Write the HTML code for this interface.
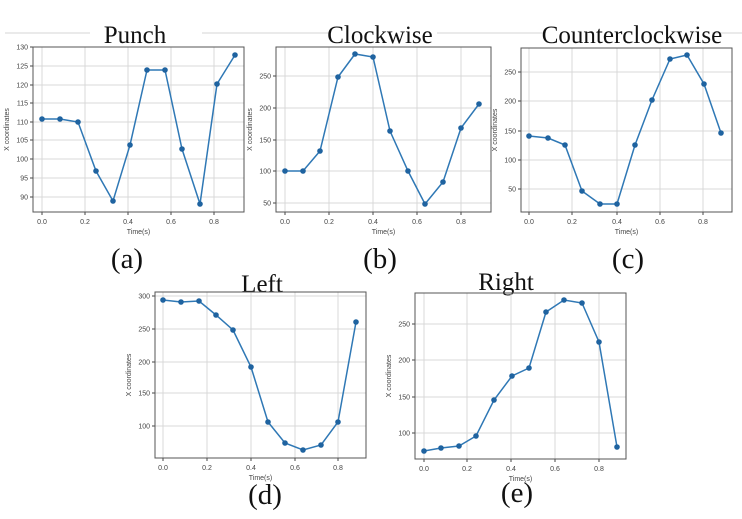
<!DOCTYPE html>
<html><head><meta charset="utf-8"><style>
html,body{margin:0;padding:0;background:#fff;}
svg{display:block;font-family:"Liberation Sans",sans-serif;}
.t{font-family:"Liberation Serif",serif;fill:#111;}
</style></head><body>
<svg id="s" width="742" height="519" viewBox="0 0 742 519" xmlns="http://www.w3.org/2000/svg">
<g stroke="#e4e4e4" stroke-width="1.5">
<line x1="5" y1="33" x2="90" y2="33"/><line x1="202" y1="33" x2="330" y2="33"/><line x1="437" y1="33" x2="545" y2="33"/><line x1="712" y1="33" x2="742" y2="33"/>
</g>
<text class="t" x="135" y="43" font-size="25" text-anchor="middle">Punch</text>
<text class="t" x="380" y="43" font-size="25" text-anchor="middle">Clockwise</text>
<text class="t" x="632" y="43" font-size="25" text-anchor="middle">Counterclockwise</text>
<text class="t" x="262" y="292" font-size="25" text-anchor="middle">Left</text>
<text class="t" x="506" y="290" font-size="25" text-anchor="middle">Right</text>
<text class="t" x="127" y="268" font-size="29" text-anchor="middle">(a)</text>
<text class="t" x="380" y="268" font-size="29" text-anchor="middle">(b)</text>
<text class="t" x="628" y="268" font-size="29" text-anchor="middle">(c)</text>
<text class="t" x="265" y="504" font-size="29" text-anchor="middle">(d)</text>
<text class="t" x="517" y="502" font-size="29" text-anchor="middle">(e)</text>
</svg>
<script>
var NS="http://www.w3.org/2000/svg",S=document.getElementById('s');
function el(n,a,t){var e=document.createElementNS(NS,n);for(var k in a)e.setAttribute(k,a[k]);if(t!=null)e.textContent=t;S.appendChild(e);return e;}
var P=[
{b:[33,47,244,212],xt:[[42,'0.0'],[85,'0.2'],[128,'0.4'],[171,'0.6'],[214,'0.8']],yt:[[47,'130'],[66,'125'],[85,'120'],[103,'115'],[122,'110'],[140,'105'],[159,'100'],[178,'95'],[197,'90']],
 p:[[42,119],[60,119],[78,122],[96,171],[113,201],[130,145],[147,70],[165,70],[182,149],[200,204],[217,84],[235,55]]},
{b:[276,47,491,212],xt:[[285,'0.0'],[329,'0.2'],[373,'0.4'],[417,'0.6'],[461,'0.8']],yt:[[76,'250'],[108,'200'],[140,'150'],[171,'100'],[203,'50']],
 p:[[285,171],[303,171],[320,151],[338,77],[355,54],[373,57],[390,131],[408,171],[425,204],[443,182],[461,128],[479,104]]},
{b:[521,48,732,212],xt:[[529,'0.0'],[572,'0.2'],[617,'0.4'],[660,'0.6'],[703,'0.8']],yt:[[72,'250'],[101,'200'],[131,'150'],[160,'100'],[189,'50']],
 p:[[529,136],[548,138],[565,145],[582,191],[600,204],[617,204],[635,145],[652,100],[670,59],[687,55],[704,84],[721,133]]},
{b:[155,292,366,458],xt:[[163,'0.0'],[207,'0.2'],[251,'0.4'],[295,'0.6'],[338,'0.8']],yt:[[296,'300'],[329,'250'],[362,'200'],[393,'150'],[426,'100']],
 p:[[163,300],[181,302],[199,301],[216,315],[233,330],[251,367],[268,422],[285,443],[303,450],[321,445],[338,422],[356,322]]},
{b:[415,293,626,459],xt:[[424,'0.0'],[467,'0.2'],[511,'0.4'],[555,'0.6'],[599,'0.8']],yt:[[324,'250'],[360,'200'],[397,'150'],[433,'100']],
 p:[[424,451],[441,448],[459,446],[476,436],[494,400],[512,376],[529,368],[546,312],[564,300],[582,303],[599,342],[617,447]]}
];
P.forEach(function(c){var b=c.b;
 c.xt.forEach(function(t){el('line',{x1:t[0],x2:t[0],y1:b[1],y2:b[3],stroke:'#d8d8d8','stroke-width':1});
  el('line',{x1:t[0],x2:t[0],y1:b[3],y2:b[3]+3,stroke:'#444'});
  el('text',{x:t[0],y:b[3]+12,'font-size':7,'text-anchor':'middle',fill:'#444'},t[1]);});
 c.yt.forEach(function(t){el('line',{x1:b[0],x2:b[2],y1:t[0],y2:t[0],stroke:'#d8d8d8','stroke-width':1});
  el('line',{x1:b[0]-3,x2:b[0],y1:t[0],y2:t[0],stroke:'#444'});
  el('text',{x:b[0]-5,y:t[0]+2.5,'font-size':7,'text-anchor':'end',fill:'#444'},t[1]);});
 el('rect',{x:b[0],y:b[1],width:b[2]-b[0],height:b[3]-b[1],fill:'none',stroke:'#555','stroke-width':1});
 el('text',{x:(b[0]+b[2])/2,y:b[3]+22,'font-size':7,'text-anchor':'middle',fill:'#444'},'Time(s)');
 var cy=(b[1]+b[3])/2,cx=b[0]-24;
 el('text',{x:cx,y:cy,'font-size':7,'text-anchor':'middle',fill:'#444',transform:'rotate(-90 '+cx+' '+cy+')'},'X coordinates');
 el('polyline',{points:c.p.map(function(q){return q.join(',')}).join(' '),fill:'none',stroke:'#2f78b5','stroke-width':1.5});
 c.p.forEach(function(q){el('circle',{cx:q[0],cy:q[1],r:2.8,fill:'#1f63a0'});});
});
</script>
</body></html>
